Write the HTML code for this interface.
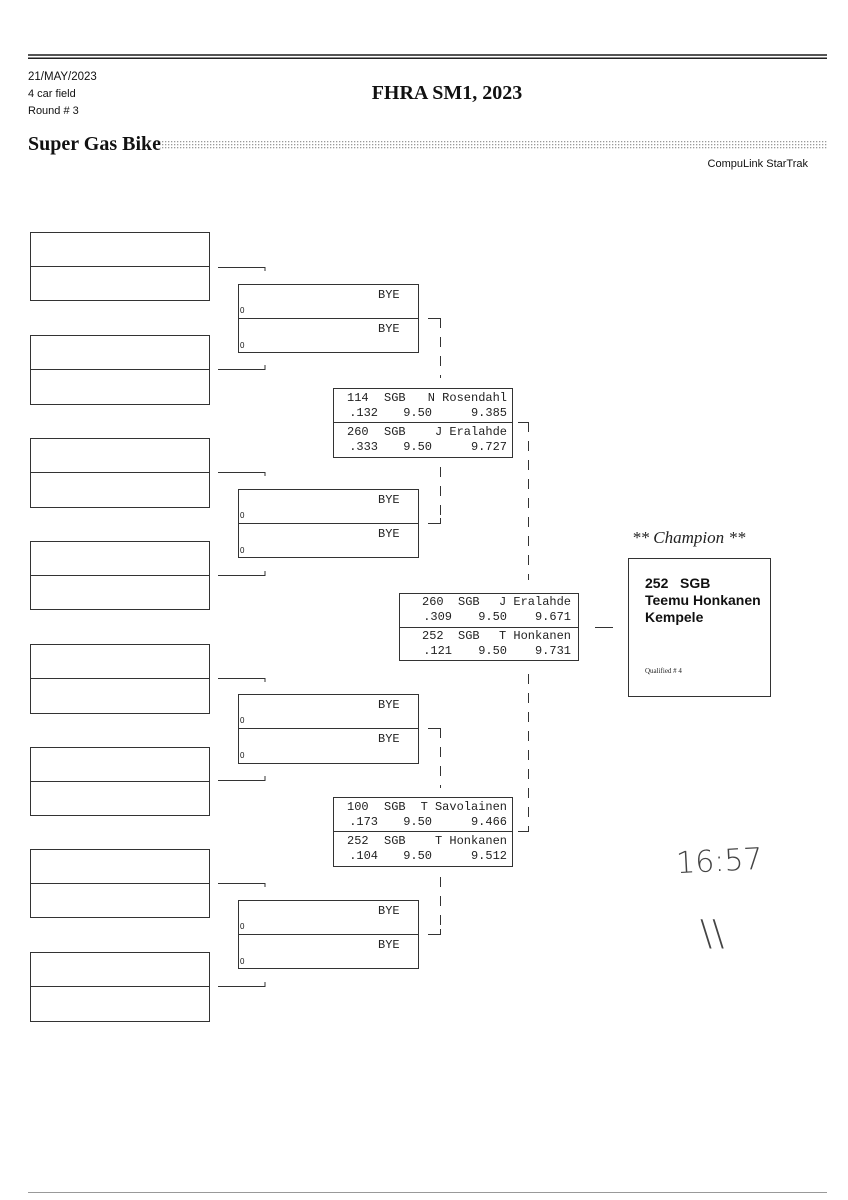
<!DOCTYPE html>
<html><head><meta charset="utf-8"><style>
html,body{margin:0;padding:0;background:#fff}
svg{display:block}
.m{font-family:"Liberation Mono",monospace;font-size:12px;fill:#222}
.s{font-family:"Liberation Sans",sans-serif;fill:#111}
.b{font-family:"Liberation Serif",serif;font-weight:bold;fill:#111}
</style></head><body>
<svg width="848" height="1200" viewBox="0 0 848 1200" xmlns="http://www.w3.org/2000/svg">
<defs>
<pattern id="dots" width="3" height="3" patternUnits="userSpaceOnUse"><rect width="1.3" height="1.3" fill="#999"/></pattern>
</defs>
<!-- header -->
<rect x="28" y="54" width="799" height="2" fill="#555"/>
<rect x="28" y="57.5" width="799" height="1.5" fill="#222"/>
<text x="28" y="80" class="s" font-size="11.5">21/MAY/2023</text>
<text x="28" y="97" class="s" font-size="11">4 car field</text>
<text x="28" y="114" class="s" font-size="11">Round # 3</text>
<text x="447" y="99" class="b" font-size="20" text-anchor="middle">FHRA SM1, 2023</text>
<text x="28" y="150" class="b" font-size="20">Super Gas Bike</text>
<rect x="160" y="140" width="668" height="9" fill="url(#dots)"/>
<text x="808" y="167" class="s" font-size="11" text-anchor="end">CompuLink StarTrak</text>
<rect x="28" y="1192" width="799" height="1" fill="#999"/>

<g fill="none" stroke="#333" stroke-width="1">
<!-- round 1 boxes -->
<rect x="30.5" y="232.5" width="179" height="68"/><line x1="30" y1="266.5" x2="210" y2="266.5"/>
<rect x="30.5" y="335.5" width="179" height="69"/><line x1="30" y1="369.5" x2="210" y2="369.5"/>
<rect x="30.5" y="438.5" width="179" height="69"/><line x1="30" y1="472.5" x2="210" y2="472.5"/>
<rect x="30.5" y="541.5" width="179" height="68"/><line x1="30" y1="575.5" x2="210" y2="575.5"/>
<rect x="30.5" y="644.5" width="179" height="69"/><line x1="30" y1="678.5" x2="210" y2="678.5"/>
<rect x="30.5" y="747.5" width="179" height="68"/><line x1="30" y1="781.5" x2="210" y2="781.5"/>
<rect x="30.5" y="849.5" width="179" height="68"/><line x1="30" y1="883.5" x2="210" y2="883.5"/>
<rect x="30.5" y="952.5" width="179" height="69"/><line x1="30" y1="986.5" x2="210" y2="986.5"/>
<!-- r1 connectors -->
<path d="M218 267.5H265V271"/><path d="M218 369.5H265V365"/>
<path d="M218 472.5H265V476"/><path d="M218 575.5H265V571"/>
<path d="M218 678.5H265V682"/><path d="M218 780.5H265V776"/>
<path d="M218 883.5H265V887"/><path d="M218 986.5H265V982"/>
<!-- round 2 boxes -->
<rect x="238.5" y="284.5" width="180" height="68"/><line x1="238" y1="318.5" x2="419" y2="318.5"/>
<rect x="238.5" y="489.5" width="180" height="68"/><line x1="238" y1="523.5" x2="419" y2="523.5"/>
<rect x="238.5" y="694.5" width="180" height="69"/><line x1="238" y1="728.5" x2="419" y2="728.5"/>
<rect x="238.5" y="900.5" width="180" height="68"/><line x1="238" y1="934.5" x2="419" y2="934.5"/>
<!-- round 3 boxes -->
<rect x="333.5" y="388.5" width="179" height="69"/><line x1="333" y1="422.5" x2="513" y2="422.5"/>
<rect x="333.5" y="797.5" width="179" height="69"/><line x1="333" y1="831.5" x2="513" y2="831.5"/>
<!-- final -->
<rect x="399.5" y="593.5" width="179" height="67"/><line x1="399" y1="627.5" x2="579" y2="627.5"/>
<line x1="595" y1="627.5" x2="613" y2="627.5"/>
<!-- champion -->
<rect x="628.5" y="558.5" width="142" height="138"/>
</g>
<!-- dashed connectors -->
<g fill="none" stroke="#333" stroke-width="1">
<path d="M428 318.5H440.5"/><path d="M440.5 318V378" stroke-dasharray="10 9"/>
<path d="M440.5 467V520" stroke-dasharray="10 9"/><path d="M428 523.5H440.5V518"/>
<path d="M428 728.5H440.5"/><path d="M440.5 728V788" stroke-dasharray="10 9"/>
<path d="M440.5 877V932" stroke-dasharray="10 9"/><path d="M428 934.5H440.5V929"/>
<path d="M518 422.5H528.5"/><path d="M528.5 422V580" stroke-dasharray="10 9"/>
<path d="M528.5 674V831" stroke-dasharray="10 9"/><path d="M518 831.5H528.5V826"/>
</g>
<!-- BYE labels -->
<g class="m" font-size="11.5">
<text x="378" y="298">BYE</text><text x="378" y="332">BYE</text>
<text x="378" y="503">BYE</text><text x="378" y="537">BYE</text>
<text x="378" y="708">BYE</text><text x="378" y="742">BYE</text>
<text x="378" y="914">BYE</text><text x="378" y="948">BYE</text>
</g>
<g class="s" font-size="8">
<text x="240" y="313">0</text><text x="240" y="348">0</text>
<text x="240" y="518">0</text><text x="240" y="553">0</text>
<text x="240" y="723">0</text><text x="240" y="758">0</text>
<text x="240" y="929">0</text><text x="240" y="964">0</text>
</g>
<!-- R3 box 1 -->
<g class="m">
<text x="347" y="401">114</text><text x="384" y="401">SGB</text><text x="507" y="401" text-anchor="end">N Rosendahl</text>
<text x="378" y="416" text-anchor="end">.132</text><text x="432" y="416" text-anchor="end">9.50</text><text x="507" y="416" text-anchor="end">9.385</text>
<text x="347" y="435">260</text><text x="384" y="435">SGB</text><text x="507" y="435" text-anchor="end">J Eralahde</text>
<text x="378" y="450" text-anchor="end">.333</text><text x="432" y="450" text-anchor="end">9.50</text><text x="507" y="450" text-anchor="end">9.727</text>
<!-- R3 box 2 -->
<text x="347" y="810">100</text><text x="384" y="810">SGB</text><text x="507" y="810" text-anchor="end">T Savolainen</text>
<text x="378" y="825" text-anchor="end">.173</text><text x="432" y="825" text-anchor="end">9.50</text><text x="507" y="825" text-anchor="end">9.466</text>
<text x="347" y="844">252</text><text x="384" y="844">SGB</text><text x="507" y="844" text-anchor="end">T Honkanen</text>
<text x="378" y="859" text-anchor="end">.104</text><text x="432" y="859" text-anchor="end">9.50</text><text x="507" y="859" text-anchor="end">9.512</text>
<!-- final -->
<text x="422" y="605">260</text><text x="458" y="605">SGB</text><text x="571" y="605" text-anchor="end">J Eralahde</text>
<text x="452" y="620" text-anchor="end">.309</text><text x="507" y="620" text-anchor="end">9.50</text><text x="571" y="620" text-anchor="end">9.671</text>
<text x="422" y="639">252</text><text x="458" y="639">SGB</text><text x="571" y="639" text-anchor="end">T Honkanen</text>
<text x="452" y="654" text-anchor="end">.121</text><text x="507" y="654" text-anchor="end">9.50</text><text x="571" y="654" text-anchor="end">9.731</text>
</g>
<!-- champion -->
<text x="632" y="543" font-family="Liberation Serif,serif" font-style="italic" font-size="17" fill="#222">** Champion **</text>
<g class="s" font-size="14" font-weight="bold" fill="#111">
<text x="645" y="588">252&#160;&#160;&#160;SGB</text>
<text x="645" y="605">Teemu Honkanen</text>
<text x="645" y="622">Kempele</text>
</g>
<text x="645" y="673" font-family="Liberation Serif,serif" font-size="7" fill="#222">Qualified # 4</text>
<!-- handwriting -->
<text x="676" y="872" font-family="DejaVu Sans,sans-serif" font-size="30" font-weight="200" fill="#444" transform="rotate(-3 700 860)">16:57</text>
<text x="700" y="945" font-family="DejaVu Sans,sans-serif" font-size="36" font-weight="200" fill="#444">\\</text>
</svg>
</body></html>
